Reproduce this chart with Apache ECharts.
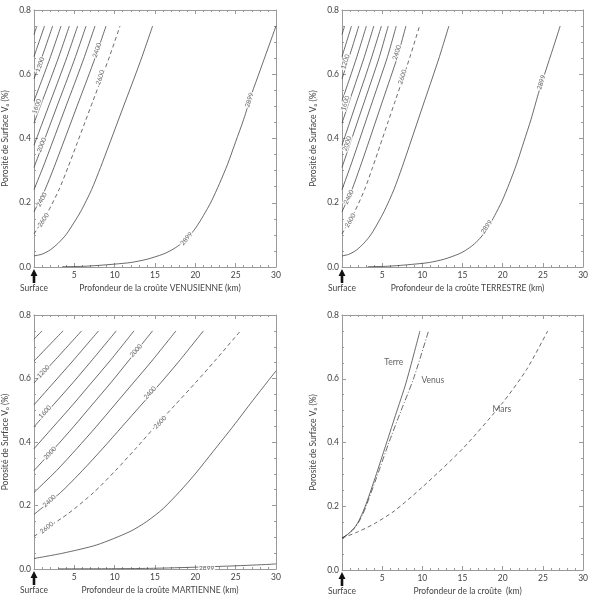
<!DOCTYPE html>
<html>
<head>
<meta charset="UTF-8">
<script src="https://cdn.jsdelivr.net/npm/echarts/dist/echarts.min.js"></script>
<style>
  html, body { margin: 0; padding: 0; background: #fff; }
  #chart { width: 591px; height: 601px; }
</style>
</head>
<body>
<div id="chart"></div>
<script>
// density of each contour (kg/m3), 2600 is drawn dashed
var densityLevels = [800, 1000, 1200, 1400, 1600, 1800, 2000, 2200, 2400, 2600, 2800, 2899];
var dashedLevel = 2600;

// [depth km, surface porosity]
var venusLines = [
  [[0, .724], [0.36, .75]],
  [[0, .655], [1.3, .75]],
  [[0, .586], [1.01, .655], [2.31, .75]],
  [[0, .517], [1.04, .586], [2.05, .655], [3.35, .75]],
  [[0, .448], [1.03, .517], [2.07, .586], [3.08, .655], [4.38, .75]],
  [[0, .379], [1.03, .448], [2.06, .517], [3.1, .586], [4.11, .655], [5.41, .75]],
  [[0, .31], [1.04, .379], [2.07, .448], [3.1, .517], [4.14, .586], [5.15, .655], [6.45, .75]],
  [[0, .241], [1.11, .31], [2.15, .379], [3.18, .448], [4.21, .517], [5.25, .586], [6.26, .655], [7.56, .75]],
  [[0, .172], [1.37, .241], [2.48, .31], [3.52, .379], [4.55, .448], [5.58, .517], [6.62, .586], [7.63, .655], [8.93, .75]],
  [[0, .103], [1.73, .172], [3.1, .241], [4.21, .31], [5.25, .379], [6.28, .448], [7.31, .517], [8.35, .586], [9.36, .655], [10.66, .75]],
  [[0, .0345], [1, .04], [2, .053], [3, .074], [4.04, .103], [5.77, .172], [7.14, .241], [8.25, .31], [9.29, .379], [10.32, .448], [11.35, .517], [12.39, .586], [13.4, .655], [14.7, .75]],
  [[3.5, .001], [6, .002], [8, .005], [10, .009], [12, .014], [14, .024], [16, .04], [17, .052], [18, .068], [19, .09], [20, .12], [21, .16], [22, .205], [23, .26], [24, .32], [25, .39], [26, .46], [27, .54], [28, .61], [29, .68], [30, .75]]
];

var terreLines = [
  [[0, .724], [0.33, .75]],
  [[0, .655], [1.18, .75]],
  [[0, .586], [0.91, .655], [2.09, .75]],
  [[0, .517], [0.94, .586], [1.86, .655], [3.03, .75]],
  [[0, .448], [0.93, .517], [1.87, .586], [2.79, .655], [3.96, .75]],
  [[0, .379], [0.93, .448], [1.86, .517], [2.81, .586], [3.72, .655], [4.9, .75]],
  [[0, .31], [0.94, .379], [1.87, .448], [2.81, .517], [3.75, .586], [4.66, .655], [5.75, .75]],
  [[0, .241], [1.0, .31], [1.95, .379], [2.88, .448], [3.81, .517], [4.75, .586], [5.67, .655], [6.75, .75]],
  [[0, .172], [1.24, .241], [2.24, .31], [3.19, .379], [4.12, .448], [5.05, .517], [5.99, .586], [6.91, .655], [7.95, .75]],
  [[0, .103], [1.57, .172], [2.81, .241], [3.81, .31], [4.75, .379], [5.68, .448], [6.62, .517], [7.56, .586], [8.47, .655], [9.65, .75]],
  [[0, .0345], [0.91, .04], [1.81, .053], [2.72, .074], [3.66, .103], [5.22, .172], [6.46, .241], [7.47, .31], [8.41, .379], [9.34, .448], [10.27, .517], [11.21, .586], [12.13, .655], [13.3, .75]],
  [[3.2, .001], [5.43, .002], [7.24, .005], [9.05, .009], [10.86, .014], [12.67, .024], [14.48, .04], [15.39, .052], [16.29, .068], [17.2, .09], [18.1, .12], [19.0, .16], [19.91, .205], [20.82, .26], [21.72, .32], [22.63, .39], [23.53, .46], [24.44, .54], [25.34, .61], [26.25, .68], [27.15, .75]]
];

var marsLines = [
  [[0, .724], [1.0, .75]],
  [[0, .655], [3.6, .75]],
  [[0, .586], [2.5, .655], [5.9, .75]],
  [[0, .517], [2.4, .586], [4.8, .655], [8.0, .75]],
  [[0, .448], [2.4, .517], [4.8, .586], [7.1, .655], [10.2, .75]],
  [[0, .379], [2.4, .448], [4.8, .517], [7.1, .586], [9.4, .655], [12.4, .75]],
  [[0, .31], [2.5, .379], [4.9, .448], [7.2, .517], [9.5, .586], [11.7, .655], [14.7, .75]],
  [[0, .241], [2.8, .31], [5.3, .379], [7.7, .448], [10.0, .517], [12.3, .586], [14.6, .655], [17.6, .75]],
  [[0, .172], [3.3, .241], [6.0, .31], [8.5, .379], [10.9, .448], [13.3, .517], [15.7, .586], [18.0, .655], [21.0, .75]],
  [[0, .103], [4.1, .172], [7.4, .241], [10.1, .31], [12.6, .379], [15.0, .448], [17.5, .517], [20.0, .586], [22.4, .655], [25.6, .75]],
  [[0, .033], [3.6, .05], [7.8, .076], [11.9, .118], [14, .15], [16, .19], [18.1, .245], [20, .30], [22.2, .37], [24.7, .45], [27.1, .53], [30, .624]],
  [[3, .0005], [9.6, .001], [14.3, .002], [19.1, .005], [23.9, .009], [28.7, .014], [30, .016]]
];

// contour labels [x, y, text]
var venusTags = [[0.74, 0.63, '1200'], [0.33, 0.5, '1600'], [0.95, 0.38, '2000'], [0.95, 0.21, '2400'], [1.16, 0.146, '2600'],
  [7.8, 0.675, '2400'], [8.2, 0.59, '2600'], [26.7, 0.52, '2899'], [18.9, 0.088, '2899']];
var terreTags = [[0.41, 0.639, '1200'], [0.41, 0.51, '1600'], [0.62, 0.384, '2000'], [0.83, 0.218, '2400'], [1.03, 0.145, '2600'],
  [6.82, 0.668, '2400'], [7.52, 0.592, '2600'], [24.8, 0.575, '2899'], [18.0, 0.125, '2899']];
var marsTags = [[1.16, 0.622, '1200'], [1.36, 0.495, '1600'], [1.98, 0.365, '2000'], [1.9, 0.214, '2400'], [1.57, 0.13, '2600'],
  [12.64, 0.688, '2000'], [14.38, 0.555, '2400'], [15.62, 0.462, '2600'], [21.4, 0.005, '2899']];

// bottom-right panel: the 2600 contour of each planet
var terreCurve = [[0, .1], [0.5, .108], [1, .118], [1.5, .131], [2, .15], [2.5, .176], [3, .207], [4, .28], [5.3, .38], [6.65, .485], [8, .59], [9.7, .75]];
var venusCurve = [[0, .1], [0.5, .108], [1, .118], [1.5, .13], [2, .147], [2.5, .17], [3, .2], [4.3, .29], [5.84, .4], [7.35, .5], [8.9, .6], [10.77, .75]];
var marsCurve = [[0, .1], [2, .12], [4, .145], [6.5, .185], [10, .26], [15, .38], [20, .525], [23, .63], [25.6, .75]];
var compareTags = [[6.43, 0.653, 'Terre'], [11.3, 0.595, 'Venus'], [19.9, 0.504, 'Mars']];

var xTitles = [
  'Profondeur de la croûte VENUSIENNE (km)',
  'Profondeur de la croûte TERRESTRE (km)',
  'Profondeur de la croûte MARTIENNE (km)',
  'Profondeur de la croûte  (km)'
];
var yTitle = 'Porosité de Surface V₀ (%)';

// ---- layout / style ----
var FONT = 'Lato';
var frame = '#9a9a9a';
var ink = '#3a3a3a';
var grids = [
  { left: 34, top: 10, width: 242, height: 257 },
  { left: 342, top: 10, width: 242, height: 257 },
  { left: 34, top: 315, width: 242, height: 254 },
  { left: 342, top: 315, width: 242, height: 255 }
];
var venusAngles = [70, 70, 68, 62, 57, 71, 71, 72, 50];
var terreAngles = [72, 72, 70, 64, 60, 72, 72, 73, 54];
var marsAngles = [47, 47, 46, 42, 38, 48, 48, 46, 0];

var xAxes = [], yAxes = [], series = [];

grids.forEach(function (g, i) {
  var tick = { inside: true, length: 4, lineStyle: { color: frame } };
  var minor = { show: true, length: 2, lineStyle: { color: frame } };
  xAxes.push({
    gridIndex: i, type: 'value', min: 0, max: 30, interval: 5, position: 'bottom',
    name: xTitles[i], nameLocation: 'middle', nameGap: 17,
    nameTextStyle: { fontSize: 8.5, color: '#444', fontFamily: FONT, padding: [0, 0, 0, 10] },
    axisLine: { onZero: false, lineStyle: { color: frame } },
    axisTick: tick, minorTick: Object.assign({ splitNumber: 5 }, minor),
    splitLine: { show: false },
    axisLabel: { fontSize: 8.5, color: '#444', fontFamily: FONT, margin: 4,
      formatter: function (v) { return v === 0 ? '' : v; } }
  });
  xAxes.push({
    gridIndex: i, type: 'value', min: 0, max: 30, interval: 5, position: 'top',
    axisLine: { onZero: false, lineStyle: { color: frame } },
    axisTick: tick, minorTick: Object.assign({ splitNumber: 5 }, minor),
    splitLine: { show: false }, axisLabel: { show: false }
  });
  yAxes.push({
    gridIndex: i, type: 'value', min: 0, max: 0.8, interval: 0.2, position: 'left',
    name: yTitle, nameLocation: 'middle', nameGap: 24,
    nameTextStyle: { fontSize: 8.5, color: '#444', fontFamily: FONT },
    axisLine: { onZero: false, lineStyle: { color: frame } },
    axisTick: tick, minorTick: Object.assign({ splitNumber: 4 }, minor),
    splitLine: { show: false },
    axisLabel: { fontSize: 8.5, color: '#444', fontFamily: FONT, margin: 3,
      formatter: function (v) { return v.toFixed(1); } }
  });
  yAxes.push({
    gridIndex: i, type: 'value', min: 0, max: 0.8, interval: 0.2, position: 'right',
    axisLine: { onZero: false, lineStyle: { color: frame } },
    axisTick: tick, minorTick: Object.assign({ splitNumber: 4 }, minor),
    splitLine: { show: false }, axisLabel: { show: false }
  });
});

function lineSeries(pts, g, type) {
  return {
    type: 'line', xAxisIndex: 2 * g, yAxisIndex: 2 * g, data: pts,
    smooth: 0.25, showSymbol: false, silent: true,
    lineStyle: { color: ink, width: 0.75, type: type || 'solid' }
  };
}

function tagSeries(tags, angles, g, size) {
  return {
    type: 'scatter', xAxisIndex: 2 * g, yAxisIndex: 2 * g, symbolSize: 0, z: 5, silent: true,
    data: tags.map(function (t, k) {
      return { value: [t[0], t[1]], label: { formatter: t[2], rotate: angles ? angles[k] : 0 } };
    }),
    label: {
      show: true, position: 'inside', fontSize: size || 6.5, color: ink, fontFamily: FONT,
      backgroundColor: angles ? '#fff' : 'transparent', padding: [0, 1]
    }
  };
}

[venusLines, terreLines, marsLines].forEach(function (lines, g) {
  lines.forEach(function (pts, k) {
    series.push(lineSeries(pts, g, densityLevels[k] === dashedLevel ? [4, 3] : 'solid'));
  });
});
series.push(tagSeries(venusTags, venusAngles, 0));
series.push(tagSeries(terreTags, terreAngles, 1));
series.push(tagSeries(marsTags, marsAngles, 2));

series.push(lineSeries(terreCurve, 3, 'solid'));
series.push(lineSeries(venusCurve, 3, [6, 2, 1, 2]));
series.push(lineSeries(marsCurve, 3, [4, 3]));
series.push(tagSeries(compareTags, null, 3, 8.5));

var chart = echarts.init(document.getElementById('chart'), null, { renderer: 'canvas' });
chart.setOption({
  animation: false,
  backgroundColor: '#fff',
  textStyle: { fontFamily: FONT },
  grid: grids,
  xAxis: xAxes,
  yAxis: yAxes,
  series: series
});

// "Surface" arrow under the origin of every panel
var marks = [];
grids.forEach(function (g, i) {
  var p = chart.convertToPixel({ xAxisIndex: 2 * i, yAxisIndex: 2 * i }, [0, 0]);
  var x = p[0], y = p[1];
  marks.push({
    type: 'polygon',
    shape: { points: [[x, y + 2], [x + 3.5, y + 9], [x + 1.3, y + 9], [x + 1.3, y + 16], [x - 1.3, y + 16], [x - 1.3, y + 9], [x - 3.5, y + 9]] },
    style: { fill: '#111' }
  });
  marks.push({
    type: 'text', x: x, y: y + 21,
    style: { text: 'Surface', fontSize: 8.5, fontFamily: FONT, fill: '#444', align: 'center', verticalAlign: 'middle' }
  });
});
chart.setOption({ graphic: marks });
</script>
</body>
</html>
